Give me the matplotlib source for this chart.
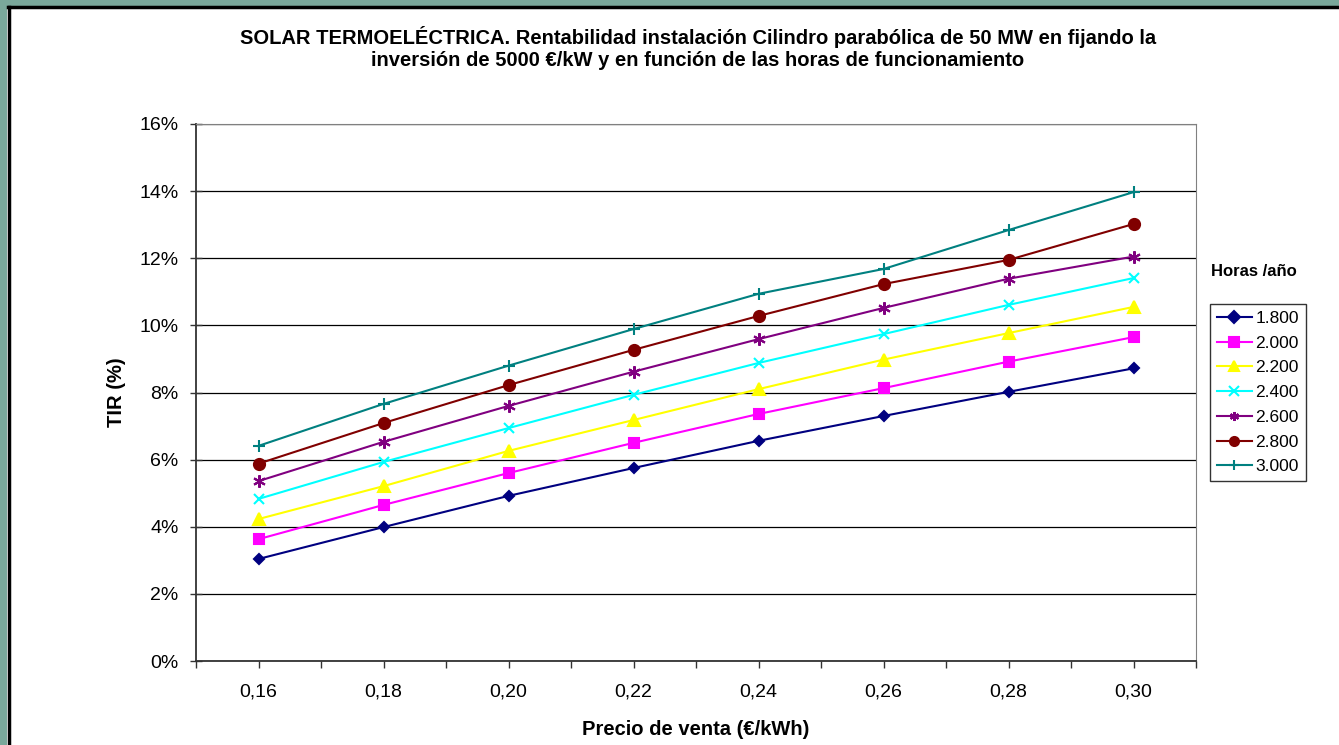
import matplotlib.pyplot as plt
import matplotlib.patches as mpatches
from matplotlib.ticker import FixedLocator, FuncFormatter

plt.rcParams['font.family'] = ['Liberation Sans', 'DejaVu Sans']

precios = ['0,16', '0,18', '0,20', '0,22', '0,24', '0,26', '0,28', '0,30']
horas = ['1.800', '2.000', '2.200', '2.400', '2.600', '2.800', '3.000']

tir_1800 = [3.04, 3.99, 4.92, 5.75, 6.56, 7.30, 8.02, 8.72]
tir_2000 = [3.63, 4.65, 5.60, 6.50, 7.36, 8.13, 8.92, 9.65]
tir_2200 = [4.23, 5.21, 6.26, 7.18, 8.10, 8.98, 9.77, 10.55]
tir_2400 = [4.83, 5.93, 6.94, 7.93, 8.88, 9.74, 10.61, 11.41]
tir_2600 = [5.36, 6.53, 7.60, 8.62, 9.59, 10.52, 11.39, 12.05]
tir_2800 = [5.88, 7.09, 8.22, 9.27, 10.28, 11.23, 11.95, 13.02]
tir_3000 = [6.41, 7.66, 8.80, 9.89, 10.94, 11.68, 12.84, 13.97]

series = [tir_1800, tir_2000, tir_2200, tir_2400, tir_2600, tir_2800, tir_3000]
colores = ['#000080', '#ff00ff', '#ffff00', '#00ffff', '#800080', '#800000', '#008080']
marcadores = ['D', 's', '^', 'x', (6, 2, 0), 'o', '+']
tamanos = [5.5, 7, 8, 7.5, 9, 8, 9]

fig = plt.figure(figsize=(13.39, 7.45), dpi=100)
fig.patch.set_facecolor('white')

# marco verde de la diapositiva
fig.patches.append(mpatches.Rectangle((0, 1 - 6/745), 1, 6/745, transform=fig.transFigure,
                                      facecolor='#7aa89b', edgecolor='none', zorder=-5))
fig.patches.append(mpatches.Rectangle((0, 0), 7/1339, 1, transform=fig.transFigure,
                                      facecolor='#7aa89b', edgecolor='none', zorder=-5))
fig.add_artist(plt.Line2D([7.5/1339, 1], [1 - 7/745, 1 - 7/745], color='black', lw=2.5,
                          transform=fig.transFigure))
fig.add_artist(plt.Line2D([8.5/1339, 8.5/1339], [0, 1 - 7/745], color='black', lw=2.5,
                          transform=fig.transFigure))

ax = fig.add_axes([196/1339, 1 - 661/745, 1000/1339, 537/745])
x = list(range(len(precios)))
for vals, c, m, s, h in zip(series, colores, marcadores, tamanos, horas):
    ax.plot(x, vals, color=c, lw=1.5, marker=m, markersize=s, markeredgewidth=1.5,
            markerfacecolor=c, markeredgecolor=c, label=h, clip_on=False)

ax.set_xlim(-0.5, len(precios) - 0.5)
ax.set_ylim(0, 16)
ax.set_xticks(x)
ax.set_xticklabels(precios)
ax.xaxis.set_minor_locator(FixedLocator([i - 0.5 for i in range(len(precios) + 1)]))
ax.set_yticks(range(0, 17, 2))
ax.yaxis.set_major_formatter(FuncFormatter(lambda v, p: f'{int(v)}%'))
ax.tick_params(axis='both', labelsize=14, length=5, width=1, color='#333333', pad=8)
ax.tick_params(axis='x', which='minor', length=5, width=1, color='#333333')
ax.tick_params(axis='x', direction='out', pad=11)
ax.tick_params(axis='y', direction='inout', length=9)

ax.grid(axis='y', color='black', lw=0.9)
ax.set_axisbelow(True)
for side in ['top', 'right']:
    ax.spines[side].set_color('#808080')
for side in ['left', 'bottom']:
    ax.spines[side].set_color('#333333')
    ax.spines[side].set_linewidth(1.3)

ax.set_xlabel('Precio de venta (€/kWh)', fontsize=14.5, fontweight='bold', labelpad=14)
ax.set_ylabel('TIR (%)', fontsize=14.5, fontweight='bold', labelpad=10)

fig.text(698/1339, 1 - 48/745,
         'SOLAR TERMOELÉCTRICA. Rentabilidad instalación Cilindro parabólica de 50 MW en fijando la\n'
         'inversión de 5000 €/kW y en función de las horas de funcionamiento',
         ha='center', va='center', fontsize=14.5, fontweight='bold', linespacing=1.2)

fig.text(1211/1339, 1 - 271/745, 'Horas /año', fontsize=12, fontweight='bold', va='center')
leg = ax.legend(loc='upper left', bbox_to_anchor=(1210/1339, 1 - 304/745),
                bbox_transform=fig.transFigure, frameon=True, fancybox=False,
                fontsize=12.5, handlelength=2.0, handletextpad=0.2, borderpad=0.4,
                labelspacing=0.55, borderaxespad=0)
leg.get_frame().set_edgecolor('black')
leg.get_frame().set_linewidth(1)
for hd in leg.legend_handles:
    hd.set_markersize(6.5)

fig.savefig('out.png', dpi=100, facecolor='white')
